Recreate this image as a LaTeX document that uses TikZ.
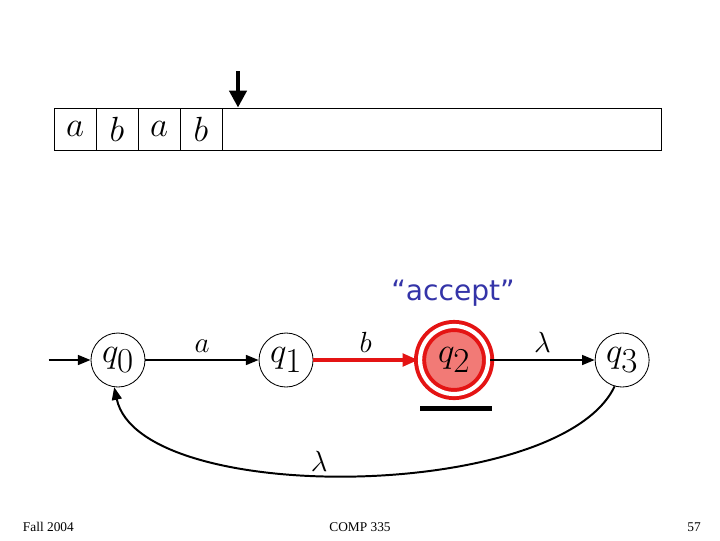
\documentclass[tikz,border=0pt]{standalone}
\usepackage{fontspec}
\setmainfont{Liberation Serif}
\newfontfamily\acceptfont{DejaVu Sans}
\usetikzlibrary{automata,positioning,arrows.meta}
\definecolor{accred}{RGB}{228,20,20}
\definecolor{accfill}{RGB}{242,122,118}
\definecolor{accblue}{RGB}{52,52,168}

\begin{document}
\begin{tikzpicture}[
  x=0.025cm, y=-0.025cm,
  ->,
  >={Triangle[length=9pt,width=7pt]},
  node distance=4.2cm, on grid,
  every state/.style={draw, line width=0.6pt, minimum size=1.35cm, inner sep=0pt,
    font=\fontsize{25}{25}\selectfont},
  initial text={}, initial distance=1.05cm,
  every initial by arrow/.style={line width=1.4pt},
  final/.style={draw=accred, fill=accfill, double=white, line width=2.8pt,
    double distance=3pt, minimum size=1.7cm},
  cell/.style={draw, -, line width=0.6pt, minimum width=1.05cm, minimum height=1.05cm,
    inner sep=0pt, font=\fontsize{24}{24}\selectfont},
  edge/.style={line width=1.4pt},
  foot/.style={font=\fontsize{9.5}{9.5}\selectfont},
]
  \useasboundingbox (0,0) rectangle (720,540);

  \foreach \s [count=\i] in {a,b,a,b}
    \node[cell] (c\i) at ({33+42*\i},129) {$\s$};
  \node[cell, minimum width=10.95cm, anchor=west] (rest) at (c4.east) {};
  \coordinate (headtop) at (238,71);
  \draw[line width=3.4pt, -{Triangle[length=12pt,width=12pt]}] (headtop) -- (headtop |- rest.north);

  \node[state, initial]          (q0) at (118,360) {$q_{\textstyle 0}$};
  \node[state, right=of q0]      (q1) {$q_{\textstyle 1}$};
  \node[state, final, right=of q1] (q2) {$q_{\textstyle 2}$};
  \node[state, right=of q2]      (q3) {$q_{\textstyle 3}$};

  \node[text=accblue, font=\acceptfont\fontsize{20}{20}\selectfont] (acc) at (453,293) {“accept”};
  \fill (420,405.5) rectangle (492,410.5);

  \draw[edge] (q0) -- node[above=1pt, font=\fontsize{22}{22}\selectfont] {$a$} (q1);
  \draw[edge, accred, line width=2.2pt, -{Triangle[length=11pt,width=9pt]}] (q1) -- node[above=1pt, black, font=\fontsize{22}{22}\selectfont] {$b$} (q2);
  \draw[edge] (q2) -- node[above=1pt, font=\fontsize{22}{22}\selectfont] {$\lambda$} (q3);
  \draw[edge] (q3.254) .. controls (560,502) and (140,507) .. (q0.262)
    node[pos=0.55, above=-2pt, font=\fontsize{22}{22}\selectfont] {$\lambda$};

  \node[foot, anchor=west] (fall) at (18,527) {Fall 2004};
  \node[foot] (course) at (360,527) {COMP 335};
  \node[foot] (page) at (694,527) {57};
\end{tikzpicture}
\end{document}
